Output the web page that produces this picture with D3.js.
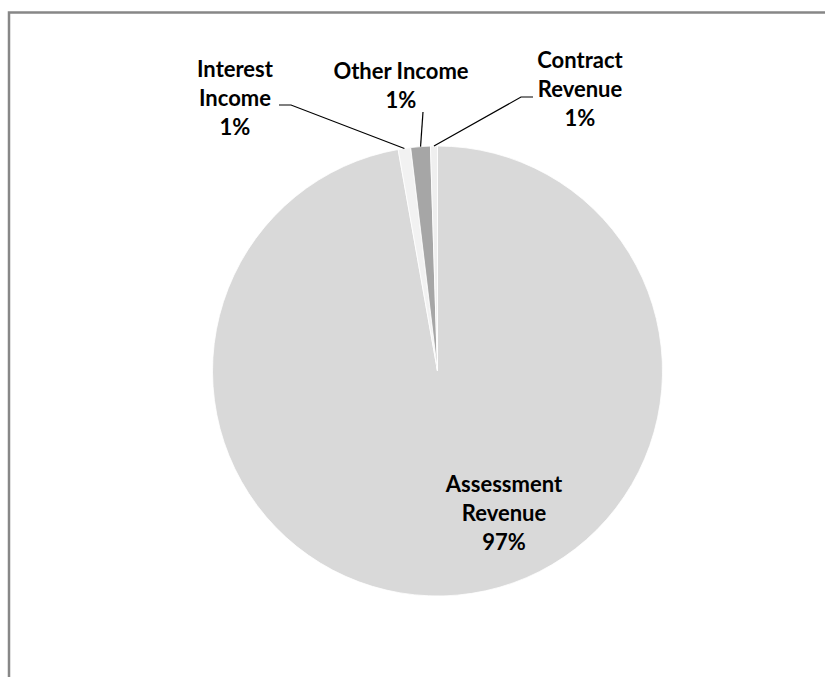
<!DOCTYPE html>
<html>
<head>
<meta charset="utf-8">
<script src="https://cdn.jsdelivr.net/npm/d3@7"></script>
<style>
  html, body { margin: 0; padding: 0; background: #fff; }
  svg { display: block; }
</style>
</head>
<body>
<svg id="chart" width="825" height="677"></svg>
<script>
// ---- data ----
const categories = ["Assessment Revenue", "Interest Income", "Other Income", "Contract Revenue"];
const values = [97.2, 0.9, 1.4, 0.5];
const percentLabels = ["97%", "1%", "1%", "1%"];
const labelLines = [["Assessment", "Revenue"], ["Interest", "Income"], ["Other Income"], ["Contract", "Revenue"]];

// ---- styles / layout ----
const colors = ["#d9d9d9", "#f2f2f2", "#a6a6a6", "#efefef"];
const W = 825, H = 677;
const cx = 437.5, cy = 371, R = 225;
const fontFamily = "Lato, 'Open Sans', sans-serif";
const fontSize = 22, lineH = 29;
// label anchor (center x, first baseline y) and leader elbow for outside labels
const labelLayout = {
  "Assessment Revenue": { x: 504, y: 492, elbow: null },
  "Interest Income":  { x: 235, y: 77,  elbow: [[279, 105], [291, 105]] },
  "Other Income":     { x: 401, y: 79,  elbow: [[423, 112]] },
  "Contract Revenue": { x: 580, y: 68,  elbow: [[533, 97], [521, 97]] }
};

const svg = d3.select("#chart");

// frame
svg.append("rect")
  .attr("x", 9).attr("y", 12.5)
  .attr("width", W + 10).attr("height", H + 10)
  .attr("fill", "none").attr("stroke", "#878787").attr("stroke-width", 2.5);

const data = categories.map((c, i) => ({ cat: c, value: values[i], pct: percentLabels[i], lines: labelLines[i], color: colors[i] }));

const pie = d3.pie().value(d => d.value).sort(null);
const arcs = pie(data);
const arc = d3.arc().innerRadius(0).outerRadius(R);

const g = svg.append("g").attr("transform", `translate(${cx},${cy})`);

g.selectAll("path.slice")
  .data(arcs)
  .join("path")
  .attr("class", "slice")
  .attr("d", arc)
  .attr("fill", d => d.data.color)
  .attr("stroke", "#ffffff")
  .attr("stroke-width", 0.8);

// leader lines
arcs.forEach(a => {
  const lay = labelLayout[a.data.cat];
  if (!lay || !lay.elbow) return;
  const mid = (a.startAngle + a.endAngle) / 2;
  const px = cx + R * Math.sin(mid);
  const py = cy - R * Math.cos(mid);
  const pts = lay.elbow.map(p => p.slice()).concat([[px, py]]);
  svg.append("path")
    .attr("d", d3.line()(pts))
    .attr("fill", "none")
    .attr("stroke", "#000")
    .attr("stroke-width", 1.2);
});

// labels
arcs.forEach(a => {
  const lay = labelLayout[a.data.cat];
  const x = lay.x, y = lay.y;
  const allLines = a.data.lines.concat([a.data.pct]);
  const t = svg.append("text")
    .attr("text-anchor", "middle")
    .attr("font-family", fontFamily)
    .attr("font-weight", "bold")
    .attr("font-size", fontSize)
    .attr("fill", "#000");
  allLines.forEach((ln, i) => {
    t.append("tspan").attr("x", x).attr("y", y + i * lineH).text(ln);
  });
});
</script>
</body>
</html>
